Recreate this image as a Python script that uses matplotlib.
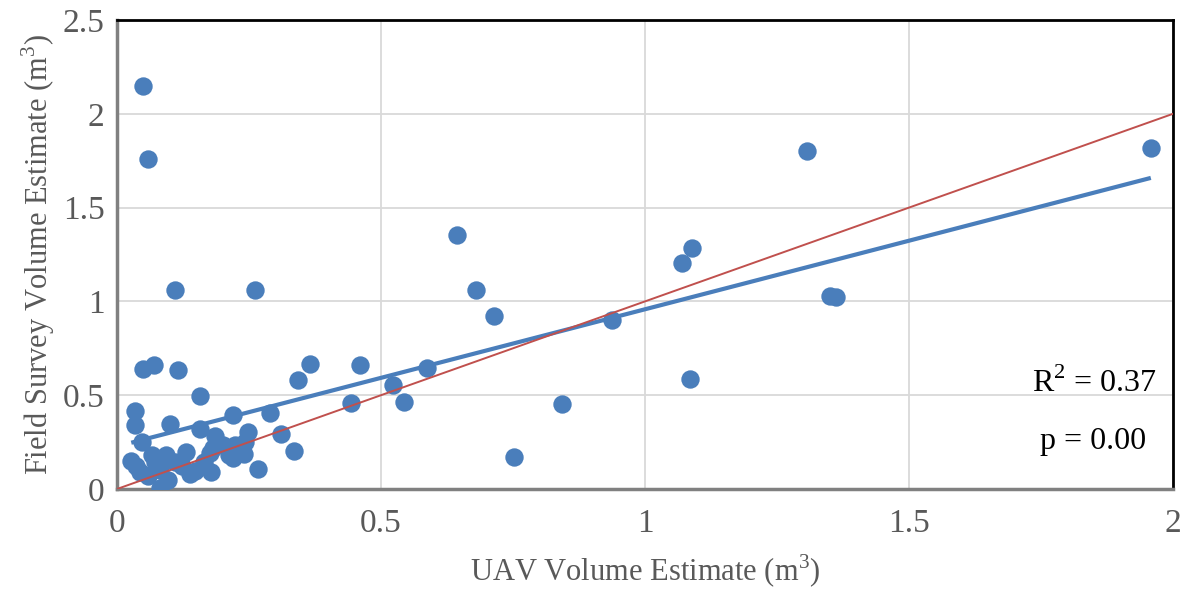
import matplotlib
matplotlib.use("Agg")
import matplotlib.pyplot as plt
import numpy as np

# UAV volume estimates (m^3)
uav = [0.049, 0.059, 0.110, 0.261, 0.644, 0.680, 0.714, 0.9375, 1.070, 1.089,
       1.085, 1.307, 1.350, 1.362, 1.958, 0.752, 0.843, 0.587, 0.523, 0.544,
       0.460, 0.443, 0.366, 0.343, 0.335, 0.311, 0.290, 0.248, 0.242, 0.241,
       0.267, 0.220, 0.212, 0.186, 0.176, 0.178, 0.157, 0.157, 0.131, 0.165,
       0.138, 0.116, 0.100, 0.070, 0.049, 0.034, 0.034, 0.047, 0.027, 0.044,
       0.059, 0.072, 0.081, 0.081, 0.093, 0.097, 0.110, 0.123, 0.148, 0.182,
       0.201, 0.223, 0.220, 0.036, 0.066]
# Field survey volume estimates (m^3)
field = [2.148, 1.759, 1.061, 1.061, 1.354, 1.061, 0.922, 0.901, 1.205, 1.285,
         0.586, 1.802, 1.029, 1.023, 1.818, 0.171, 0.453, 0.645, 0.554, 0.464,
         0.661, 0.458, 0.666, 0.581, 0.203, 0.293, 0.405, 0.304, 0.251, 0.187,
         0.107, 0.394, 0.181, 0.283, 0.192, 0.091, 0.496, 0.320, 0.197, 0.144,
         0.080, 0.634, 0.346, 0.661, 0.640, 0.416, 0.341, 0.251, 0.149, 0.091,
         0.069, 0.144, 0.005, 0.101, 0.181, 0.048, 0.144, 0.123, 0.096, 0.219,
         0.235, 0.235, 0.165, 0.123, 0.181]

trend_slope = 0.731
trend_intercept = 0.227
one_to_one = [0, 2]
r2_text = "R$^2$ = 0.37"
p_text = "p = 0.00"

x_ticks = [0, 0.5, 1, 1.5, 2]
x_labels = ["0", "0.5", "1", "1.5", "2"]
y_ticks = [0, 0.5, 1, 1.5, 2, 2.5]
y_labels = ["0", "0.5", "1", "1.5", "2", "2.5"]

plt.rcParams['font.family'] = ['Liberation Serif', 'DejaVu Serif']
plt.rcParams['mathtext.fontset'] = 'custom'
plt.rcParams['mathtext.rm'] = 'Liberation Serif'

fig = plt.figure(figsize=(11.88, 5.92), dpi=100)
ax = fig.add_axes([117/1188, 1 - 489/592, (1173-117)/1188, (489-20)/592])

blue = '#4a7ebb'
red = '#c0504d'

ax.scatter(uav, field, s=175, color=blue, zorder=3, linewidths=0)

xs = np.array([min(uav), max(uav)])
ax.plot(xs, trend_slope * xs + trend_intercept, color=blue, lw=3, zorder=4,
        solid_capstyle='butt')
ax.plot(one_to_one, one_to_one, color=red, lw=1.4, zorder=5)

ax.set_xlim(0, 2)
ax.set_ylim(0, 2.5)
ax.set_xticks(x_ticks)
ax.set_xticklabels(x_labels)
ax.set_yticks(y_ticks)
ax.set_yticklabels(y_labels)
ax.tick_params(axis='both', length=0, labelsize=24, colors='#595959')
ax.tick_params(axis='x', pad=14)
ax.tick_params(axis='y', pad=9)
ax.grid(True, color='#d9d9d9', lw=1.3, zorder=0)
ax.set_axisbelow(True)

for s in ['top', 'right']:
    ax.spines[s].set_color('black')
    ax.spines[s].set_linewidth(2)
for s in ['left', 'bottom']:
    ax.spines[s].set_color('#808080')
    ax.spines[s].set_linewidth(2.5)

ax.set_xlabel("UAV Volume Estimate (m$^3$)", fontsize=22, color='#595959', labelpad=10)
ax.set_ylabel("Field Survey Volume Estimate (m$^3$)", fontsize=22, color='#595959', labelpad=4)

ax.text(0.985, 0.225, r2_text, transform=ax.transAxes, ha='right', va='center',
        fontsize=23, color='black')
ax.text(0.975, 0.102, p_text, transform=ax.transAxes, ha='right', va='center',
        fontsize=23, color='black')

fig.savefig("out.png", dpi=100)
